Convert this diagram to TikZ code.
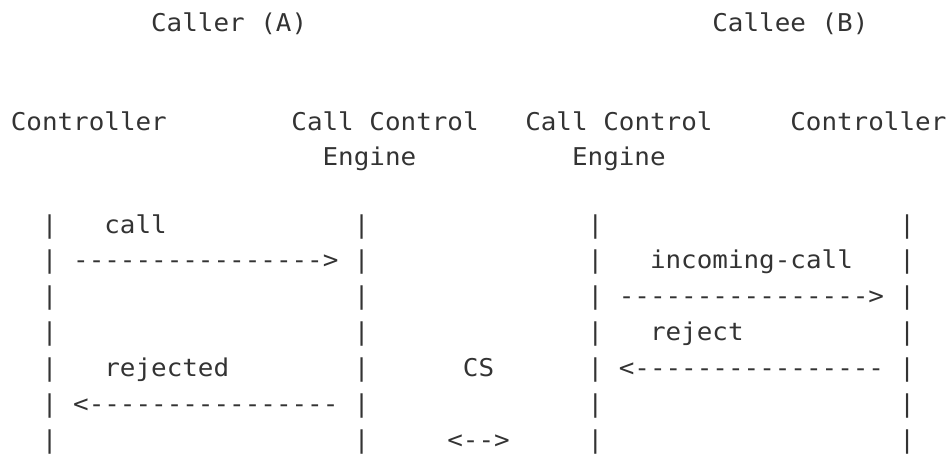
\documentclass[tikz,border=0pt]{standalone}
\usepackage{fontspec}
\setmonofont{DejaVu Sans Mono}[FakeStretch=1.058]
\definecolor{ink}{RGB}{51,51,51}
\begin{document}
\begin{tikzpicture}[
  txt/.style={inner sep=0pt, outer sep=0pt, anchor=base west, text=ink,
    font=\ttfamily\fontsize{24.5}{24.5}\selectfont}]
\path[use as bounding box] (0pt,0pt) rectangle (949pt,453pt);
\begin{scope}[x=15.59pt, y=-1pt, xshift=10.8pt, yshift=453pt]
  % headings
  \node[txt] (callerA) at (9,31.7) {Caller (A)};
  \node[txt] (calleeB) at (45,31.7) {Callee (B)};
  \node[txt] (ctrlA) at (0,130.5) {Controller};
  \node[txt] (cceA) at (18,130.5) {Call Control};
  \node[txt] (cceB) at (33,130.5) {Call Control};
  \node[txt] (ctrlB) at (50,130.5) {Controller};
  \node[txt] (engA) at (20,166) {Engine};
  \node[txt] (engB) at (36,166) {Engine};
  % lifelines
  \foreach \r/\y in {0/233,1/268.9,2/304.8,3/340.7,4/376.6,5/412.5,6/448.4}{
    \foreach \c in {2,22,37,57}{
      \node[txt] (bar-\r-\c) at (\c,\y) {|};
    }
  }
  % messages
  \node[txt] (lcall) at (6,233) {call};
  \node[txt] (acall) at (4,268.9) {---------------->};
  \node[txt] (linc) at (41,268.9) {incoming-call};
  \node[txt] (ainc) at (39,304.8) {---------------->};
  \node[txt] (lrej) at (41,340.7) {reject};
  \node[txt] (lrejd) at (6,376.6) {rejected};
  \node[txt] (cs) at (29,376.6) {CS};
  \node[txt] (arej) at (39,376.6) {<----------------};
  \node[txt] (arejd) at (4,412.5) {<----------------};
  \node[txt] (acs) at (28,448.4) {<-->};
\end{scope}
\end{tikzpicture}
\end{document}
